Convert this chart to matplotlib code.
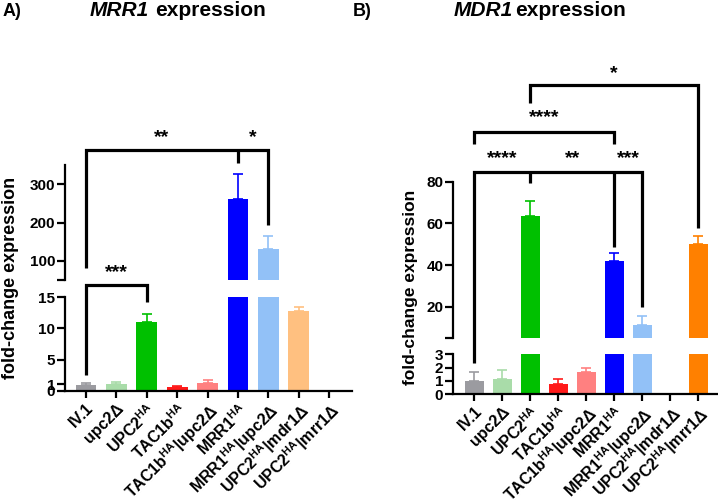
import matplotlib
matplotlib.use("Agg")
import matplotlib.pyplot as plt
import numpy as np

plt.rcParams['font.family'] = ['Liberation Sans', 'DejaVu Sans']
plt.rcParams['font.weight'] = 'bold'
plt.rcParams['mathtext.fontset'] = 'custom'
plt.rcParams['mathtext.rm'] = 'Liberation Sans:bold'
plt.rcParams['mathtext.bf'] = 'Liberation Sans:bold'
plt.rcParams['mathtext.it'] = 'Liberation Sans:italic:bold'
plt.rcParams['mathtext.default'] = 'rm'

# ---------------- data ----------------
categories = ["IV.1", "upc2Δ", "UPC2$^{HA}$", "TAC1b$^{HA}$", "TAC1b$^{HA}$|upc2Δ",
              "MRR1$^{HA}$", "MRR1$^{HA}$|upc2Δ", "UPC2$^{HA}$|mdr1Δ", "UPC2$^{HA}$|mrr1Δ"]

mrr1_mean = [0.9, 1.0, 11.1, 0.6, 1.3, 262.0, 131.0, 12.8, 0.0]
mrr1_err = [0.35, 0.4, 1.2, 0.2, 0.35, 65.0, 33.0, 0.7, 0.0]
mrr1_colors = ["#9b9ba0", "#a9dca9", "#00c000", "#ff1a1a", "#ff8080",
               "#0000ff", "#92c1f7", "#ffc080", "#ff8000"]

mdr1_mean = [1.0, 1.15, 63.8, 0.78, 1.65, 42.2, 11.4, 0.0, 50.2]
mdr1_err = [0.67, 0.68, 6.9, 0.35, 0.35, 3.8, 4.5, 0.0, 3.8]
mdr1_colors = ["#9b9ba0", "#a9dca9", "#00c000", "#ff1a1a", "#ff8080",
               "#0000ff", "#92c1f7", "#ffc080", "#ff8000"]

W, H = 718, 504
fig = plt.figure(figsize=(W / 100, H / 100), dpi=100)


def ax_px(x0, x1, ytop, ybot):
    return fig.add_axes([x0 / W, 1 - ybot / H, (x1 - x0) / W, (ybot - ytop) / H])


LW = 1.6
BRK = 2.3


def style(ax, bottom_axis):
    ax.set_facecolor('none')
    for s in ['top', 'right']:
        ax.spines[s].set_visible(False)
    ax.spines['left'].set_linewidth(LW)
    ax.tick_params(axis='y', length=6, width=LW, labelsize=11, pad=1)
    if bottom_axis:
        ax.spines['bottom'].set_linewidth(LW)
        ax.tick_params(axis='x', length=5, width=LW, labelsize=11.5, pad=2)
    else:
        ax.spines['bottom'].set_visible(False)
        ax.tick_params(axis='x', length=0, labelbottom=False)
    for t in ax.get_yticklabels():
        t.set_fontweight('bold')


def draw_bars(ax, means, errs, colors, width):
    x = np.arange(len(means))
    for i in range(len(means)):
        if means[i] <= 0:
            continue
        ax.bar(x[i], means[i], width=width, color=colors[i], zorder=2)
        ax.errorbar(x[i], means[i], yerr=[[0], [errs[i]]], fmt='none',
                    ecolor=colors[i], elinewidth=1.2, capsize=3.6, capthick=1.2, zorder=2)


def bline(ax, xs, ys):
    ax.plot(xs, ys, color='black', lw=BRK, clip_on=False, zorder=5,
            solid_capstyle='butt', solid_joinstyle='miter')


def star(ax, x, y, s):
    ax.text(x, y, s, ha='center', va='center', fontsize=14, fontweight='bold',
            clip_on=False, zorder=6)


xpos = np.arange(len(categories))

# ---------------- Panel A ----------------
axA_lo = ax_px(65, 352, 297.3, 390.7)
axA_hi = ax_px(65, 352, 165, 280)
for ax in (axA_lo, axA_hi):
    draw_bars(ax, mrr1_mean, mrr1_err, mrr1_colors, 0.68)
    ax.set_xlim(-0.69, 8.75)
axA_lo.set_ylim(0, 15)
axA_hi.set_ylim(50, 350)
axA_lo.set_yticks([0, 1, 5, 10, 15])
axA_hi.set_yticks([50, 100, 200, 300])
axA_hi.set_yticklabels(['', '100', '200', '300'])
axA_lo.set_xticks(xpos)
axA_lo.set_xticklabels(categories, rotation=45, ha='right', rotation_mode='anchor',
                       fontweight='bold')
style(axA_lo, True)
style(axA_hi, False)

# brackets A
bline(axA_hi, [0, 0, 6, 6], [81.7, 390, 390, 193.7])
bline(axA_hi, [5, 5], [390, 355.6])
star(axA_hi, 2.5, 422, '**')
star(axA_hi, 5.5, 422, '*')
bline(axA_lo, [0, 0, 2, 2], [2.5, 17.0, 17.0, 14.3])
star(axA_lo, 1, 19.0, '***')

# ---------------- Panel B ----------------
axB_lo = ax_px(453, 717, 354.3, 394)
axB_hi = ax_px(453, 717, 181.7, 338.3)
for ax in (axB_lo, axB_hi):
    draw_bars(ax, mdr1_mean, mdr1_err, mdr1_colors, 0.68)
    ax.set_xlim(-0.76, 8.67)
axB_lo.set_ylim(0, 3)
axB_hi.set_ylim(5, 80)
axB_lo.set_yticks([0, 1, 2, 3])
axB_hi.set_yticks([5, 20, 40, 60, 80])
axB_hi.set_yticklabels(['', '20', '40', '60', '80'])
axB_lo.set_xticks(xpos)
axB_lo.set_xticklabels(categories, rotation=45, ha='right', rotation_mode='anchor',
                       fontweight='bold')
style(axB_lo, True)
style(axB_hi, False)

# brackets B
bline(axB_hi, [2, 2, 8, 8], [117.7, 126.3, 126.3, 57.8])
star(axB_hi, 5, 132, '*')
bline(axB_hi, [0, 0, 5, 5], [98, 103.8, 103.8, 98])
star(axB_hi, 2.5, 110.5, '****')
bline(axB_hi, [0, 0, 6, 6], [-6.9, 84.8, 84.8, 20])
bline(axB_hi, [2, 2], [84.8, 79.4])
bline(axB_hi, [5, 5], [84.8, 48.8])
star(axB_hi, 1, 91, '****')
star(axB_hi, 3.5, 91, '**')
star(axB_hi, 5.5, 91, '***')

# ---------------- titles / labels ----------------
fig.text(3 / W, 1 - 11 / H, 'A)', fontsize=13, fontweight='bold', va='center', ha='left')
fig.text(353 / W, 1 - 11 / H, 'B)', fontsize=13, fontweight='bold', va='center', ha='left')
fig.text(90 / W, 1 - 16 / H, 'MRR1', fontsize=15, fontweight='bold', style='italic',
         va='baseline', ha='left')
fig.text(155 / W, 1 - 16 / H, 'expression', fontsize=15, fontweight='bold',
         va='baseline', ha='left')
fig.text(454 / W, 1 - 16 / H, 'MDR1', fontsize=15, fontweight='bold', style='italic',
         va='baseline', ha='left')
fig.text(515 / W, 1 - 16 / H, 'expression', fontsize=15, fontweight='bold',
         va='baseline', ha='left')
fig.text(11 / W, 1 - 278 / H, 'fold-change expression', fontsize=13, fontweight='bold',
         rotation=90, va='center', ha='center')
fig.text(411 / W, 1 - 287 / H, 'fold-change expression', fontsize=12.5, fontweight='bold',
         rotation=90, va='center', ha='center')

fig.savefig('out.png', dpi=100)
